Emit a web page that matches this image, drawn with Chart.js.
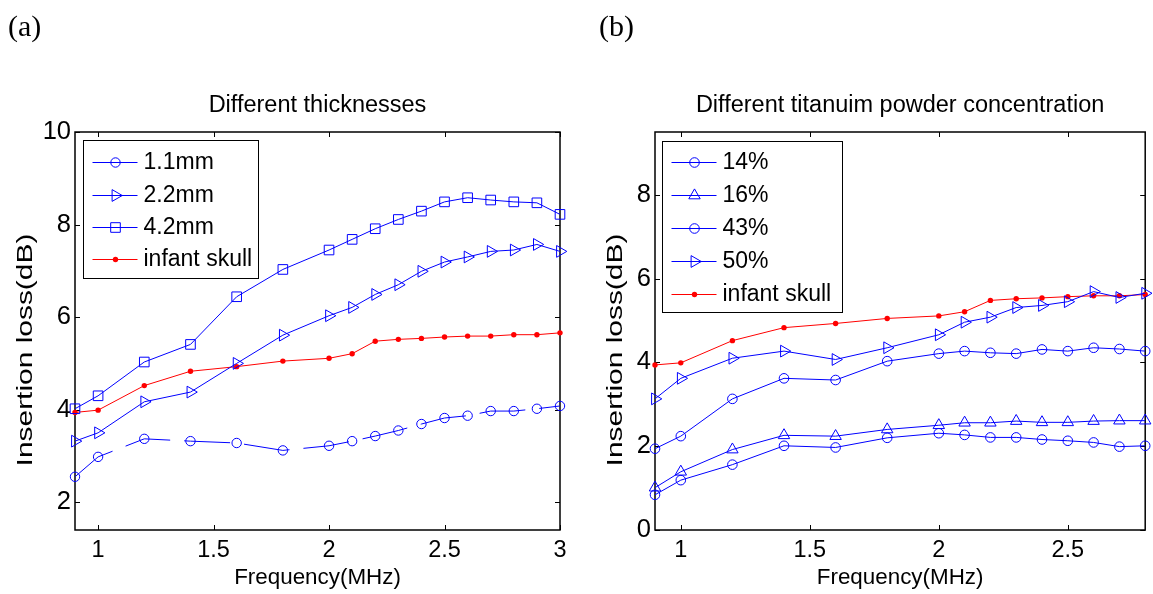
<!DOCTYPE html>
<html>
<head>
<meta charset="utf-8">
<title>Insertion loss</title>
<script src="https://cdn.jsdelivr.net/npm/chart.js@4/dist/chart.umd.min.js"></script>
<style>
  body { margin: 0; background: #fff; }
  #wrap { position: relative; width: 1153px; height: 594px; overflow: hidden; font-family: "Liberation Sans", Arial, sans-serif; }
  #wrap canvas { position: absolute; top: 0; }
  .panel { position: absolute; font-family: "Liberation Serif", "Times New Roman", serif; font-size: 30px; line-height: 1; }
  .ylab { position: absolute; font-size: 22px; line-height: 1; white-space: nowrap; color: #000;
          transform: translate(-50%, -50%) rotate(-90deg) scaleX(1.36); }
</style>
</head>
<body>
<div id="wrap">
  <canvas id="thick" width="580" height="594" style="left:0"></canvas>
  <canvas id="powder" width="573" height="594" style="left:580px"></canvas>
  <div class="panel" style="left:8px; top:11px">(a)</div>
  <div class="panel" style="left:599px; top:11px">(b)</div>
  <div class="ylab" style="left:25px; top:350px">Insertion loss(dB)</div>
  <div class="ylab" style="left:615px; top:350px">Insertion loss(dB)</div>
</div>
<script>
// (a) thickness series
var freqA = [0.9, 1.0, 1.2, 1.4, 1.6, 1.8, 2.0, 2.1, 2.2, 2.3, 2.4, 2.5, 2.6, 2.7, 2.8, 2.9, 3.0];
var loss11mm = [2.55, 2.98, 3.37, 3.32, 3.28, 3.12, 3.22, 3.32, 3.43, 3.55, 3.69, 3.82, 3.87, 3.97, 3.97, 4.02, 4.08];
var loss22mm = [3.32, 3.50, 4.17, 4.38, 5.00, 5.61, 6.03, 6.21, 6.49, 6.70, 6.99, 7.19, 7.30, 7.42, 7.45, 7.57, 7.42];
var loss42mm = [4.02, 4.30, 5.03, 5.41, 6.44, 7.03, 7.45, 7.68, 7.91, 8.11, 8.29, 8.49, 8.58, 8.53, 8.49, 8.47, 8.22];
var skull = [3.94, 3.99, 4.52, 4.83, 4.93, 5.05, 5.11, 5.21, 5.48, 5.52, 5.54, 5.57, 5.59, 5.59, 5.62, 5.62, 5.66];
var xTicksA = [1, 1.5, 2, 2.5, 3];
var yTicksA = [2, 4, 6, 8, 10];

// (b) titanium powder series
var freqB = [0.9, 1.0, 1.2, 1.4, 1.6, 1.8, 2.0, 2.1, 2.2, 2.3, 2.4, 2.5, 2.6, 2.7, 2.8];
var loss14 = [0.84, 1.19, 1.56, 2.01, 1.97, 2.20, 2.31, 2.27, 2.21, 2.21, 2.16, 2.13, 2.09, 1.99, 2.01];
var loss16 = [1.01, 1.39, 1.92, 2.26, 2.24, 2.40, 2.50, 2.56, 2.56, 2.60, 2.57, 2.57, 2.60, 2.61, 2.61];
var loss43 = [1.94, 2.24, 3.13, 3.62, 3.58, 4.03, 4.21, 4.27, 4.23, 4.21, 4.31, 4.27, 4.35, 4.32, 4.27];
var loss50 = [3.13, 3.62, 4.10, 4.27, 4.07, 4.35, 4.66, 4.96, 5.08, 5.31, 5.36, 5.45, 5.69, 5.55, 5.65];
var xTicksB = [1, 1.5, 2, 2.5];
var yTicksB = [0, 2, 4, 6, 8];

var FONT = '"Liberation Sans", Arial, sans-serif';
var BLUE = '#0000ff';
var RED = '#ff0000';

var toPoints = function(xs, ys) {
	return ys.map(function(v, i) {
		return { x: xs[i], y: v };
	});
};

var blueSeries = function(label, xs, ys, style, radius, rotation, dash) {
	return {
		label: label,
		data: toPoints(xs, ys),
		borderColor: BLUE,
		borderWidth: 1,
		borderDash: dash || [],
		pointStyle: style,
		pointRadius: radius,
		pointRotation: rotation || 0,
		pointBorderColor: BLUE,
		pointBackgroundColor: 'rgba(0,0,0,0)',
		pointBorderWidth: 1,
		clip: false
	};
};

var skullSeries = function(xs) {
	return {
		label: 'infant skull',
		data: toPoints(xs, skull.slice(0, xs.length)),
		borderColor: RED,
		borderWidth: 1,
		pointStyle: 'circle',
		pointRadius: 2.7,
		pointBorderColor: RED,
		pointBackgroundColor: RED,
		pointBorderWidth: 0,
		clip: false
	};
};

// marker outline used in the legend rows
var drawMarker = function(ctx, ds, x, y) {
	var r = ds.pointRadius;
	ctx.save();
	ctx.strokeStyle = ds.pointBorderColor;
	ctx.fillStyle = ds.pointBackgroundColor;
	ctx.lineWidth = 1;
	ctx.beginPath();
	if (ds.pointStyle === 'rect') {
		var h = r * Math.SQRT1_2;
		ctx.rect(x - h, y - h, 2 * h, 2 * h);
	} else if (ds.pointStyle === 'triangle') {
		var a = (ds.pointRotation || 0) * Math.PI / 180;
		for (var k = 0; k < 3; k++) {
			var px = x + Math.sin(a) * r, py = y - Math.cos(a) * r;
			if (k === 0) ctx.moveTo(px, py); else ctx.lineTo(px, py);
			a += 2 * Math.PI / 3;
		}
		ctx.closePath();
	} else {
		ctx.arc(x, y, r, 0, 2 * Math.PI);
	}
	ctx.fill();
	if (ds.pointBorderWidth !== 0) ctx.stroke();
	ctx.restore();
};

// box round the plot with inward ticks on all four sides
var axesFrame = {
	id: 'axesFrame',
	beforeDatasetsDraw: function(chart) {
		var ctx = chart.ctx, a = chart.chartArea;
		var xs = chart.scales.x, ys = chart.scales.y;
		var len = 5;
		ctx.save();
		ctx.strokeStyle = '#000';
		ctx.lineWidth = 1;
		ctx.beginPath();
		xs.ticks.forEach(function(t) {
			var px = Math.round(xs.getPixelForValue(t.value)) + 0.5;
			ctx.moveTo(px, a.bottom); ctx.lineTo(px, a.bottom - len);
			ctx.moveTo(px, a.top); ctx.lineTo(px, a.top + len);
		});
		ys.ticks.forEach(function(t) {
			var py = Math.round(ys.getPixelForValue(t.value)) + 0.5;
			ctx.moveTo(a.left, py); ctx.lineTo(a.left + len, py);
			ctx.moveTo(a.right, py); ctx.lineTo(a.right - len, py);
		});
		ctx.stroke();
		ctx.lineWidth = 1.5;
		ctx.strokeRect(a.left, a.top, a.right - a.left, a.bottom - a.top);
		ctx.restore();
	}
};

// legend drawn as a framed box inside the plot area
var boxLegend = {
	id: 'boxLegend',
	afterDatasetsDraw: function(chart, args, opts) {
		var ctx = chart.ctx, a = chart.chartArea;
		var x0 = Math.round(a.left + opts.dx) + 0.5, y0 = Math.round(a.top + opts.dy) + 0.5;
		ctx.save();
		ctx.fillStyle = '#fff';
		ctx.fillRect(x0, y0, opts.width, opts.height);
		ctx.strokeStyle = '#000';
		ctx.lineWidth = 1;
		ctx.strokeRect(x0, y0, opts.width, opts.height);
		ctx.font = '23px ' + FONT;
		ctx.textBaseline = 'middle';
		ctx.textAlign = 'left';
		chart.data.datasets.forEach(function(ds, i) {
			var y = Math.round(y0 + opts.first + i * opts.step) + 0.5;
			ctx.strokeStyle = ds.borderColor;
			ctx.lineWidth = 1;
			ctx.beginPath();
			ctx.moveTo(x0 + 9, y);
			ctx.lineTo(x0 + 54, y);
			ctx.stroke();
			drawMarker(ctx, ds, x0 + 32, y);
			ctx.fillStyle = '#000';
			ctx.fillText(ds.label, x0 + 60, y);
		});
		ctx.restore();
	}
};

var lossChart = function(id, title, datasets, xMin, xMax, xTicks, yMin, yMax, yTicks, rightPad, legend) {
	var tickFont = function(size) {
		return { family: FONT, size: size };
	};
	var config = {
		type: 'line',
		data: { datasets: datasets },
		options: {
			responsive: false,
			animation: false,
			layout: { padding: { top: 79, right: rightPad, bottom: 0, left: 0 } },
			plugins: {
				legend: { display: false },
				tooltip: { enabled: false },
				title: {
					display: true,
					text: title,
					color: '#000',
					fullSize: false,
					font: { family: FONT, size: 23.5, weight: 'normal' },
					padding: { top: 12, bottom: 12.8 }
				},
				boxLegend: legend
			},
			scales: {
				x: {
					type: 'linear',
					min: xMin,
					max: xMax,
					grid: { display: false, drawTicks: false },
					border: { display: false },
					ticks: {
						color: '#000',
						font: tickFont(23.5),
						padding: 6,
						autoSkip: false,
						maxRotation: 0,
						callback: function(v) { return String(v); }
					},
					afterBuildTicks: function(scale) {
						scale.ticks = xTicks.map(function(v) { return { value: v }; });
					},
					afterFit: function(scale) { scale.height = 64; },
					title: {
						display: true,
						text: 'Frequency(MHz)',
						color: '#000',
						font: { family: FONT, size: 22.4 },
						padding: { top: 0, bottom: 3 }
					}
				},
				y: {
					type: 'linear',
					min: yMin,
					max: yMax,
					grid: { display: false, drawTicks: false },
					border: { display: false },
					ticks: {
						color: '#000',
						font: tickFont(25.5),
						padding: 4,
						autoSkip: false,
						callback: function(v) { return String(v); }
					},
					afterBuildTicks: function(scale) {
						scale.ticks = yTicks.map(function(v) { return { value: v }; });
					},
					afterFit: function(scale) { scale.width = 75; }
				}
			}
		},
		plugins: [axesFrame, boxLegend]
	};
	return new Chart(document.getElementById(id).getContext('2d'), config);
};

lossChart('thick', 'Different thicknesses', [
	blueSeries('1.1mm', freqA, loss11mm, 'circle', 4.7, 0, [46, 14]),
	blueSeries('2.2mm', freqA, loss22mm, 'triangle', 6.8, 90),
	blueSeries('4.2mm', freqA, loss42mm, 'rect', 6.8),
	skullSeries(freqA)
], 0.9, 3, xTicksA, 1.4, 10, yTicksA, 20,
	{ dx: 8, dy: 8, width: 175, height: 138, first: 21.7, step: 32.3 });

lossChart('powder', 'Different titanuim powder concentration', [
	blueSeries('14%', freqB, loss14, 'circle', 4.8),
	blueSeries('16%', freqB, loss16, 'triangle', 6.6, 0),
	blueSeries('43%', freqB, loss43, 'circle', 4.8),
	blueSeries('50%', freqB, loss50, 'triangle', 6.8, 90),
	skullSeries(freqB)
], 0.9, 2.8, xTicksB, 0, 9.5, yTicksB, 1,
	{ dx: 7, dy: 9, width: 180, height: 171, first: 20.7, step: 32.9 });
</script>
</body>
</html>
